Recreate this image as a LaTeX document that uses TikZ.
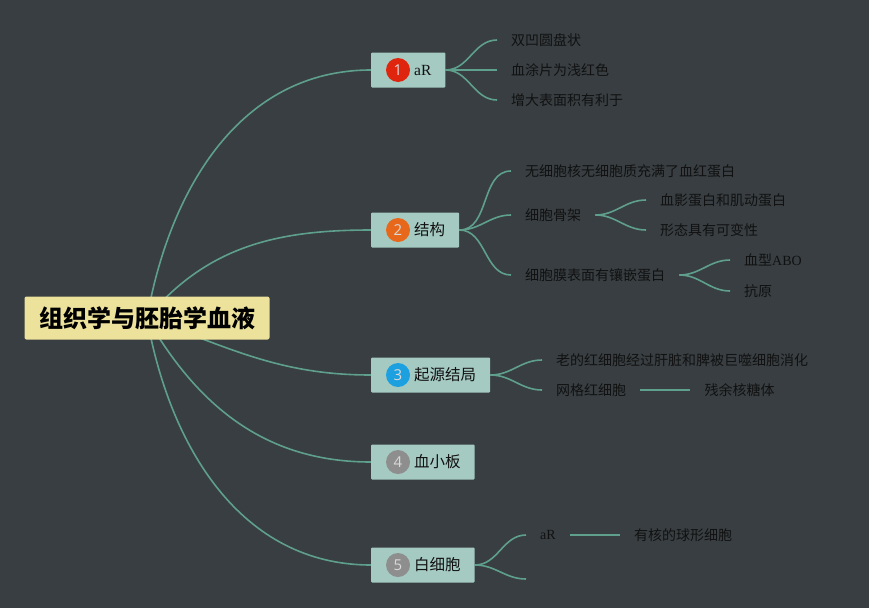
\documentclass[tikz,border=0pt]{standalone}
\usepackage{fontspec}
\newfontfamily\cjk{Noto Sans CJK SC}
\newfontfamily\numfont{Open Sans}
\newfontfamily\latin{Liberation Serif}
\usetikzlibrary{positioning}

\definecolor{bgdark}{HTML}{383E41}
\definecolor{linkteal}{HTML}{5FA08D}
\definecolor{topicteal}{HTML}{A5CAC2}
\definecolor{rootyellow}{HTML}{ECE29B}
\definecolor{inkdark}{HTML}{111111}
\definecolor{dotred}{HTML}{E0250F}
\definecolor{dotorange}{HTML}{E8681B}
\definecolor{dotblue}{HTML}{1CA0E0}
\definecolor{dotgrey}{HTML}{8E8E8E}

\pgfdeclarelayer{back}
\pgfdeclarelayer{lines}
\pgfsetlayers{back,lines,main}

\begin{document}
\begin{tikzpicture}[
    x=1pt, y=-1pt, % pixel-like coordinates, y going down
    link/.style={draw=linkteal, line width=1.6pt}, % Style for connectors
    rootbox/.style={fill=rootyellow, rounded corners=2pt, text=black, minimum width=245pt, minimum height=43pt,
        font=\cjk\bfseries\fontsize{24}{28}\selectfont}, % Central topic
    topic/.style={anchor=west, fill=topicteal, rounded corners=1pt, text=inkdark, minimum height=35pt, inner xsep=14pt,
        font=\cjk\fontsize{15.5}{18}\selectfont}, % Main branches
    numdot/.style={circle, minimum size=24pt, inner sep=0pt, text=white!85!black,
        font=\numfont\fontsize{15}{18}\selectfont}, % Numbered markers
    leaf/.style={anchor=west, inner xsep=14pt, inner ysep=2pt, text=inkdark,
        font=\cjk\fontsize{14}{16}\selectfont} % Sub-topics
]

    % --- Background ---
    \begin{pgfonlayer}{back}
        \fill[bgdark] (0,0) rectangle (869,608);
    \end{pgfonlayer}
    \useasboundingbox (0,0) rectangle (869,608);

    % --- Central topic ---
    \node[rootbox] (root) at (147,318) {组织学与胚胎学血液};

    % --- Main branches ---
    \node[topic] (rbc) at (371,70) {\hspace{29pt}{\latin aR}};
    \node[topic] (struct) at (371,230) {\hspace{29pt}结构};
    \node[topic] (origin) at (371,375) {\hspace{29pt}起源结局};
    \node[topic] (platelet) at (371,462) {\hspace{29pt}血小板};
    \node[topic] (wbc) at (371,565) {\hspace{29pt}白细胞};

    \node[numdot, fill=dotred] (rbc-num) at ([xshift=27pt]rbc.west) {1};
    \node[numdot, fill=dotorange] (struct-num) at ([xshift=27pt]struct.west) {2};
    \node[numdot, fill=dotblue] (origin-num) at ([xshift=27pt]origin.west) {3};
    \node[numdot, fill=dotgrey] (platelet-num) at ([xshift=27pt]platelet.west) {4};
    \node[numdot, fill=dotgrey] (wbc-num) at ([xshift=27pt]wbc.west) {5};

    % --- Sub-topics of 1 ---
    \node[leaf] (shape) at (497,40) {双凹圆盘状};
    \node[leaf] (smear) at (497,70) {血涂片为浅红色};
    \node[leaf] (area) at (497,100) {增大表面积有利于};

    % --- Sub-topics of 2 ---
    \node[leaf] (noncore) at (511,171) {无细胞核无细胞质充满了血红蛋白};
    \node[leaf] (skeleton) at (511,215) {细胞骨架};
    \node[leaf] (membrane) at (511,275) {细胞膜表面有镶嵌蛋白};
    \node[leaf] (spectrin) at (646,200) {血影蛋白和肌动蛋白};
    \node[leaf] (deform) at (646,230) {形态具有可变性};
    \node[leaf] (abo) at (730,260) {血型{\latin ABO}};
    \node[leaf] (antigen) at (730,291) {抗原};

    % --- Sub-topics of 3 ---
    \node[leaf] (aged) at (542,360) {老的红细胞经过肝脏和脾被巨噬细胞消化};
    \node[leaf] (retic) at (542,390) {网格红细胞};
    \node[leaf, right=50pt of retic] (ribo) {残余核糖体};

    % --- Sub-topics of 5 ---
    \node[leaf] (wbc-ar) at (526,535) {\latin aR};
    \node[leaf, right=50pt of wbc-ar] (nucleated) {有核的球形细胞};
    \coordinate (wbc-empty) at (526,579);

    % --- Connectors ---
    \begin{pgfonlayer}{lines}
        \draw[link] (root.center) to[out=80, in=180] (rbc.west);
        \draw[link] (root.center) to[out=50, in=180] (struct.west);
        \draw[link] (root.center) to[out=-20, in=180] (origin.west);
        \draw[link] (root.center) to[out=-60, in=180] (platelet.west);
        \draw[link] (root.center) to[out=-80, in=180] (wbc.west);

        \foreach \kid in {shape, smear, area}
            \draw[link] (rbc.east) to[out=0, in=180] (\kid.west);
        \foreach \kid in {noncore, skeleton, membrane}
            \draw[link] (struct.east) to[out=0, in=180] (\kid.west);
        \foreach \kid in {spectrin, deform}
            \draw[link] (skeleton.east) to[out=0, in=180] (\kid.west);
        \foreach \kid in {abo, antigen}
            \draw[link] (membrane.east) to[out=0, in=180] (\kid.west);
        \foreach \kid in {aged, retic}
            \draw[link] (origin.east) to[out=0, in=180] (\kid.west);
        \draw[link] (retic.east) -- (ribo.west);
        \draw[link] (wbc.east) to[out=0, in=180] (wbc-ar.west);
        \draw[link] (wbc.east) to[out=0, in=180] (wbc-empty);
        \draw[link] (wbc-ar.east) -- (nucleated.west);
    \end{pgfonlayer}

\end{tikzpicture}
\end{document}
